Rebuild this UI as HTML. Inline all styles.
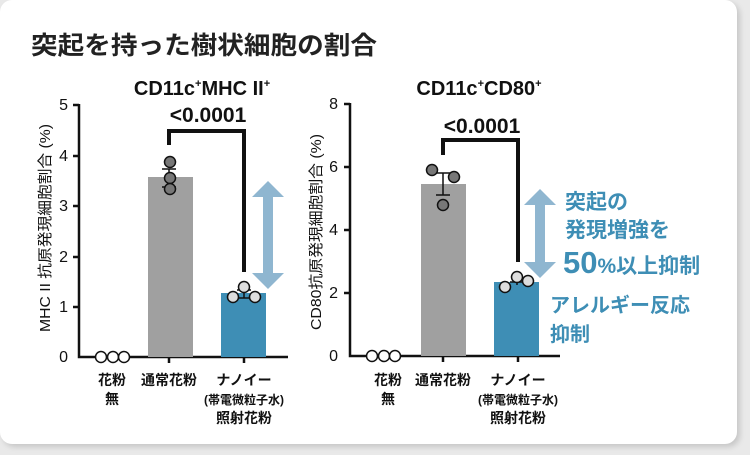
<!DOCTYPE html><html><head><meta charset="utf-8"><style>
body{margin:0;width:750px;height:455px;background:#e9e9e9;overflow:hidden}
.card{position:absolute;left:0;top:0;width:737px;height:444px;background:#fff;border-radius:12px;box-shadow:3px 3px 6px rgba(0,0,0,.15)}
svg{position:absolute;left:0;top:0}
text{font-family:"Liberation Sans","Noto Sans CJK JP",sans-serif}
.j{font-family:"Noto Sans CJK JP",sans-serif;font-weight:bold}
</style></head><body><div class="card"></div>
<svg width="750" height="455" viewBox="0 0 750 455">
<text x="31" y="54" class="j" font-size="25" fill="#222" textLength="346" lengthAdjust="spacingAndGlyphs">突起を持った樹状細胞の割合</text>
<!-- left chart -->
<text x="202" y="95" font-size="20" font-weight="bold" text-anchor="middle" fill="#111">CD11c<tspan font-size="11" dy="-8">+</tspan><tspan dy="8">MHC II</tspan><tspan font-size="11" dy="-8">+</tspan></text>
<g stroke="#111" stroke-width="2.5" fill="none">
<path d="M79 104V357H288"/>
<path d="M73 105H79M73 156H79M73 206H79M73 257H79M73 307H79"/>
<path d="M169 357v6M244 357v6"/>
</g>
<g font-size="16" fill="#111" text-anchor="end"><text x="68" y="110">5</text><text x="68" y="161">4</text><text x="68" y="211">3</text><text x="68" y="262">2</text><text x="68" y="312">1</text><text x="68" y="362">0</text></g>
<text transform="translate(50 228) rotate(-90)" font-size="15" text-anchor="middle" fill="#111" textLength="208" lengthAdjust="spacingAndGlyphs">MHC II 抗原発現細胞割合 (%)</text>
<rect x="148" y="177" width="45" height="180" fill="#a0a0a0"/>
<rect x="221" y="293" width="45" height="64" fill="#3e8eb5"/>
<path d="M169 145V131H244V272" stroke="#111" stroke-width="4" fill="none"/>
<text x="208" y="122" font-size="21" font-weight="bold" text-anchor="middle" fill="#111">&lt;0.0001</text>
<g stroke="#111" stroke-width="1.5"><path d="M169 169V187M162 169H176M162 187H176"/><path d="M244 290V298M237 290H251M237 298H251"/></g>
<g stroke="#111" stroke-width="1.5"><circle cx="170" cy="162" r="5.5" fill="#777"/><circle cx="170" cy="178" r="5.5" fill="#777"/><circle cx="170" cy="189" r="5.5" fill="#777"/>
<circle cx="244" cy="287" r="5.5" fill="#ddd"/><circle cx="233" cy="297" r="5.5" fill="#ddd"/><circle cx="255" cy="297" r="5.5" fill="#ddd"/>
<circle cx="101" cy="357" r="5.5" fill="#fff"/><circle cx="113" cy="357" r="5.5" fill="#fff"/><circle cx="124" cy="357" r="5.5" fill="#fff"/></g>
<path d="M268 181L284 197H273V273H284L268 289L252 273H263V197H252Z" fill="#8fb6d0"/>
<g class="j" font-size="14" fill="#111" text-anchor="middle"><text x="112" y="385">花粉</text><text x="112" y="404">無</text><text x="169" y="385">通常花粉</text><text x="244" y="385">ナノイー</text><text x="244" y="404" font-size="12">(帯電微粒子水)</text><text x="244" y="423">照射花粉</text></g>
<!-- right chart -->
<text x="479" y="95" font-size="20" font-weight="bold" text-anchor="middle" fill="#111">CD11c<tspan font-size="11" dy="-8">+</tspan><tspan dy="8">CD80</tspan><tspan font-size="11" dy="-8">+</tspan></text>
<g stroke="#111" stroke-width="2.5" fill="none">
<path d="M350 103V356H560"/>
<path d="M344 104H350M344 167H350M344 230H350M344 293H350"/>
<path d="M443 356v6M518 356v6"/>
</g>
<g font-size="16" fill="#111" text-anchor="end"><text x="338" y="109">8</text><text x="338" y="172">6</text><text x="338" y="235">4</text><text x="338" y="298">2</text><text x="338" y="361">0</text></g>
<text transform="translate(321 232) rotate(-90)" font-size="15" text-anchor="middle" fill="#111" textLength="196" lengthAdjust="spacingAndGlyphs">CD80抗原発現細胞割合 (%)</text>
<rect x="421" y="184" width="45" height="172" fill="#a0a0a0"/>
<rect x="494" y="282" width="45" height="74" fill="#3e8eb5"/>
<path d="M443 155V140H518V262" stroke="#111" stroke-width="4" fill="none"/>
<text x="482" y="133" font-size="21" font-weight="bold" text-anchor="middle" fill="#111">&lt;0.0001</text>
<g stroke="#111" stroke-width="1.5"><path d="M443 173V195M436 173H450M436 195H450"/><path d="M517 282V285M510 282H524"/></g>
<g stroke="#111" stroke-width="1.5"><circle cx="432" cy="170" r="5.5" fill="#777"/><circle cx="454" cy="177" r="5.5" fill="#777"/><circle cx="443" cy="205" r="5.5" fill="#777"/>
<circle cx="517" cy="277" r="5.5" fill="#ddd"/><circle cx="505" cy="287" r="5.5" fill="#ddd"/><circle cx="528" cy="281" r="5.5" fill="#ddd"/>
<circle cx="372" cy="356" r="5.5" fill="#fff"/><circle cx="384" cy="356" r="5.5" fill="#fff"/><circle cx="395" cy="356" r="5.5" fill="#fff"/></g>
<path d="M540 189L556 205H545V262H556L540 278L524 262H535V205H524Z" fill="#8fb6d0"/>
<g class="j" font-size="14" fill="#111" text-anchor="middle"><text x="388" y="385">花粉</text><text x="388" y="404">無</text><text x="443" y="385">通常花粉</text><text x="518" y="385">ナノイー</text><text x="518" y="404" font-size="12">(帯電微粒子水)</text><text x="518" y="423">照射花粉</text></g>
<g class="j" fill="#3e8eb5"><text x="565" y="209" font-size="21">突起の</text><text x="565" y="237" font-size="21">発現増強を</text>
<text x="563" y="273" font-size="21"><tspan font-family="Liberation Sans" font-size="31">50</tspan>%以上抑制</text>
<text x="550" y="312" font-size="20">アレルギー反応</text><text x="550" y="341" font-size="20">抑制</text></g>
</svg></body></html>
